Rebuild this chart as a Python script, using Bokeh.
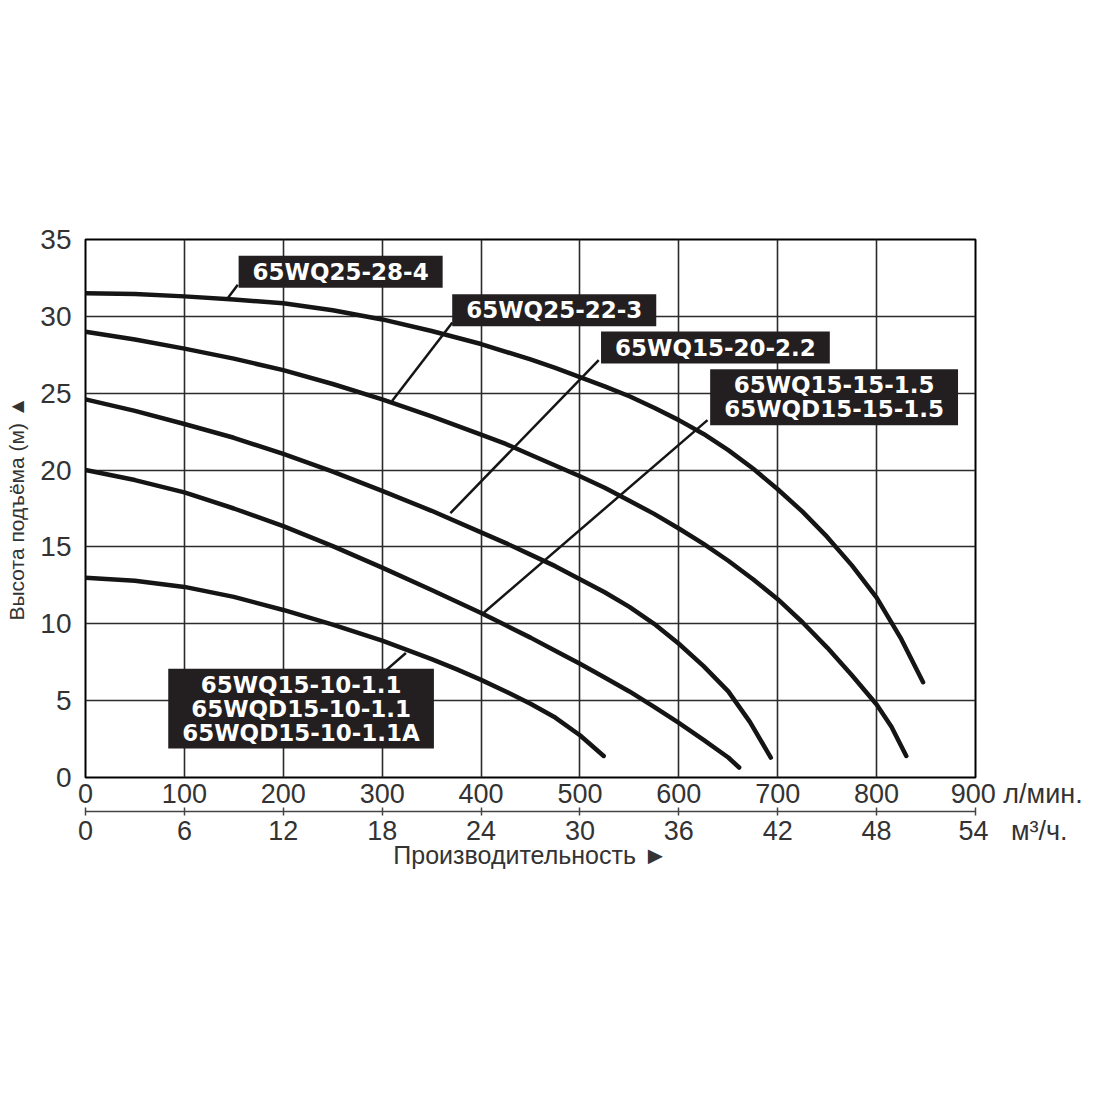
from bokeh.plotting import figure
from bokeh.models import Range1d, LinearAxis, FixedTicker, Label
from bokeh.embed import file_html
from bokeh.resources import INLINE

# pump curves: flow (l/min) vs head (m)
flow_28_4 = [0, 50, 100, 150, 200, 250, 300, 350, 400, 450, 475, 500, 525, 550, 575, 600, 625, 650,
             675, 700, 725, 750, 775, 800, 825, 847]
head_28_4 = [31.5, 31.45, 31.3, 31.1, 30.85, 30.4, 29.8, 29.05, 28.2, 27.2, 26.65, 26.05, 25.45, 24.8, 24.05,
             23.25, 22.35, 21.3, 20.1, 18.75, 17.3, 15.65, 13.8, 11.7, 9.0, 6.2]

flow_22_3 = [0, 50, 100, 150, 200, 250, 300, 350, 400, 425, 450, 475, 500, 525, 550, 575, 600, 625, 650,
             675, 700, 725, 750, 775, 800, 815, 830]
head_22_3 = [29.0, 28.5, 27.9, 27.25, 26.5, 25.6, 24.6, 23.5, 22.3, 21.7, 21.0, 20.3, 19.6, 18.85, 18.0, 17.15,
             16.2, 15.2, 14.1, 12.9, 11.6, 10.1, 8.45, 6.65, 4.75, 3.3, 1.4]

flow_20_22 = [0, 50, 100, 150, 200, 250, 300, 350, 400, 425, 450, 475, 500, 525, 550, 575, 600, 625, 650, 672, 693]
head_20_22 = [24.6, 23.85, 23.0, 22.1, 21.05, 19.9, 18.65, 17.35, 15.95, 15.25, 14.5, 13.75, 12.9, 12.05, 11.1,
              10.0, 8.7, 7.25, 5.6, 3.6, 1.3]

flow_15_15 = [0, 50, 100, 150, 200, 250, 300, 350, 400, 425, 450, 475, 500, 525, 550, 575, 600, 625, 650, 661]
head_15_15 = [20.0, 19.35, 18.55, 17.5, 16.35, 15.05, 13.65, 12.2, 10.7, 9.9, 9.1, 8.25, 7.4, 6.5, 5.6, 4.6,
              3.55, 2.45, 1.3, 0.65]

flow_10_11 = [0, 50, 100, 150, 200, 250, 300, 350, 375, 400, 425, 450, 475, 500, 524]
head_10_11 = [13.0, 12.8, 12.4, 11.75, 10.9, 9.95, 8.9, 7.7, 7.05, 6.35, 5.6, 4.8, 3.9, 2.75, 1.4]

lpm_ticks = [0, 100, 200, 300, 400, 500, 600, 700, 800, 900]
m3h_ticks = [0, 6, 12, 18, 24, 30, 36, 42, 48, 54]
head_ticks = [0, 5, 10, 15, 20, 25, 30, 35]

curves = [
    (flow_28_4, head_28_4),
    (flow_22_3, head_22_3),
    (flow_20_22, head_20_22),
    (flow_15_15, head_15_15),
    (flow_10_11, head_10_11),
]

# label text, box centre, leader start (box corner) and leader end (on curve)
labels = [
    ("65WQ25-28-4", 258, 32.9, (154, 32.05), (144, 31.2)),
    ("65WQ25-22-3", 474, 30.4, (371, 29.6), (310, 24.5)),
    ("65WQ15-20-2.2", 637, 27.97, (519, 27.15), (369, 17.2)),
    ("65WQ15-15-1.5\n65WQD15-15-1.5", 757, 24.74, (629, 23.25), (403, 10.73)),
    ("65WQ15-10-1.1\n65WQD15-10-1.1\n65WQD15-10-1.1A", 218, 4.48, (300, 6.76), (324, 8.1)),
]

TXT = "#333333"
FONT = "Liberation Sans"
NB = "\u00a0"

p = figure(width=1084, height=1084,
           x_range=Range1d(0, 900), y_range=Range1d(0, 35),
           output_backend="svg", toolbar_location=None,
           min_border_left=85, min_border_right=109,
           min_border_top=239, min_border_bottom=307)

p.outline_line_color = "black"
p.outline_line_width = 2

p.xgrid.ticker = FixedTicker(ticks=lpm_ticks)
p.ygrid.ticker = FixedTicker(ticks=head_ticks)
for g in (p.xgrid, p.ygrid):
    g.grid_line_color = "#2b2b2b"
    g.grid_line_width = 1.6
    g.grid_line_alpha = 1.0

ax = p.xaxis[0]
ax.ticker = FixedTicker(ticks=lpm_ticks)
ax.axis_line_color = None
ax.major_tick_line_color = None
ax.minor_tick_line_color = None
ax.major_tick_in = 0
ax.major_tick_out = 0
ax.major_label_standoff = 1
ax.major_label_text_font = FONT
ax.major_label_text_font_size = "27px"
ax.major_label_text_color = TXT
# unit after the last tick, padded on the left so "900" stays on its tick
ax.major_label_overrides = {900: NB * 11 + "900" + NB + "л/мин."}

ay = p.yaxis[0]
ay.ticker = FixedTicker(ticks=head_ticks)
ay.axis_line_color = None
ay.major_tick_line_color = None
ay.minor_tick_line_color = None
ay.major_label_standoff = 8
ay.major_label_text_font = FONT
ay.major_label_text_font_size = "28px"
ay.major_label_text_color = TXT
ay.axis_label = "Высота подъёма (м) ▲"
ay.axis_label_text_font = FONT
ay.axis_label_text_font_style = "normal"
ay.axis_label_text_font_size = "21px"
ay.axis_label_text_color = TXT
ay.axis_label_standoff = 9

p.extra_x_ranges = {"m3h": Range1d(0, 54)}
ax2 = LinearAxis(x_range_name="m3h", ticker=FixedTicker(ticks=m3h_ticks))
ax2.axis_line_color = "#444444"
ax2.axis_line_width = 1.5
ax2.major_tick_line_color = "#444444"
ax2.major_tick_line_width = 1.5
ax2.major_tick_in = 4
ax2.major_tick_out = 4
ax2.minor_tick_line_color = None
ax2.major_label_standoff = 0
ax2.major_label_text_font = FONT
ax2.major_label_text_font_size = "27px"
ax2.major_label_text_color = TXT
ax2.major_label_overrides = {54: NB * 10 + "54" + NB * 3 + "м³/ч."}
ax2.axis_label = "Производительность ►"
ax2.axis_label_text_font = FONT
ax2.axis_label_text_font_style = "normal"
ax2.axis_label_text_font_size = "25px"
ax2.axis_label_text_color = TXT
ax2.axis_label_standoff = -8
p.add_layout(ax2, "below")

for fx, hy in curves:
    p.line(fx, hy, line_color="#151515", line_width=4.5, line_cap="round", line_join="round")

for text, cx, cy, a, b in labels:
    p.line([a[0], b[0]], [a[1], b[1]], line_color="#151515", line_width=2.5)
    p.add_layout(Label(x=cx, y=cy, text=text, text_align="center", text_baseline="middle",
                       text_font="DejaVu Sans", text_font_style="bold", text_font_size="23px",
                       text_color="white", text_line_height=0.92,
                       background_fill_color="#231f20", padding=(14, 3)))

open("out.html", "w").write(file_html(p, INLINE))
